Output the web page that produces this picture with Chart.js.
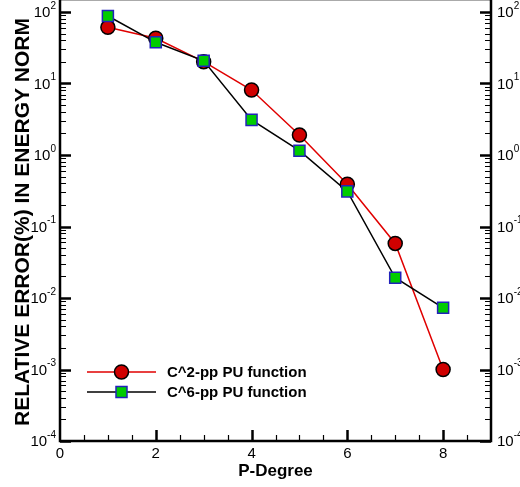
<!DOCTYPE html>
<html>
<head>
<meta charset="utf-8">
<script src="https://cdn.jsdelivr.net/npm/chart.js@4/dist/chart.umd.min.js"></script>
<style>
html, body { margin: 0; padding: 0; background: #fff; }
#wrap { width: 520px; height: 487px; }
</style>
</head>
<body>
<div id="wrap"><canvas id="c" width="520" height="487"></canvas></div>
<script>
// values
const degrees = [1, 2, 3, 4, 5, 6, 7, 8];
const c2Errors = [61, 43, 20.2, 8.1, 1.9, 0.39, 0.058, 0.001];
const c6Errors = [88, 37.7, 20.8, 3.1, 1.15, 0.31, 0.0192, 0.0073];
const xTickValues = [0, 2, 4, 6, 8];
const xTickLabels = ["0", "2", "4", "6", "8"];
const yDecades = [-4, -3, -2, -1, 0, 1, 2];
const seriesNames = ["C^2-pp PU function", "C^6-pp PU function"];

const FONT = '"Liberation Sans", Arial, Helvetica, sans-serif';

let toPoints = (vals) => degrees.map((d, i) => ({ x: d, y: vals[i] }));

// axes, ticks (inward), labels with superscripts, titles, legend
const decorations = {
    id: "decorations",
    afterDraw(chart) {
        const { ctx, chartArea: a, scales: { x, y } } = chart;
        ctx.save();

        // top frame (gray, at the very top)
        ctx.strokeStyle = "#aaaaaa";
        ctx.lineWidth = 1;
        ctx.beginPath();
        ctx.moveTo(a.left, 0.5);
        ctx.lineTo(a.right, 0.5);
        ctx.stroke();

        // left, right and bottom axis lines
        ctx.strokeStyle = "#000";
        ctx.lineWidth = 2.5;
        ctx.beginPath();
        ctx.moveTo(a.left, 0);
        ctx.lineTo(a.left, a.bottom);
        ctx.lineTo(a.right, a.bottom);
        ctx.lineTo(a.right, 0);
        ctx.stroke();

        // y ticks, both sides
        for (let e = -4; e <= 2; e++) {
            for (let m = 1; m <= 9; m++) {
                if (e == 2 && m > 1) break;
                let py = Math.round(y.getPixelForValue(m * Math.pow(10, e))) + 0.5;
                let len = m == 1 ? 11 : 6;
                ctx.lineWidth = m == 1 ? 2.5 : 1.2;
                ctx.beginPath();
                ctx.moveTo(a.left, py);
                ctx.lineTo(a.left + len, py);
                ctx.moveTo(a.right, py);
                ctx.lineTo(a.right - len, py);
                ctx.stroke();
            }
        }

        // x ticks every 0.5, major every 2
        for (let v = 0.5; v < 9; v += 0.5) {
            let px = Math.round(x.getPixelForValue(v)) + 0.5;
            let major = v % 2 == 0;
            ctx.lineWidth = major ? 2.5 : 1.2;
            ctx.beginPath();
            ctx.moveTo(px, a.bottom);
            ctx.lineTo(px, a.bottom - (major ? 11 : 6));
            ctx.stroke();
        }

        ctx.fillStyle = "#000";

        // x tick labels
        ctx.font = "15px " + FONT;
        ctx.textAlign = "center";
        ctx.textBaseline = "top";
        xTickValues.forEach((v, i) => {
            ctx.fillText(xTickLabels[i], x.getPixelForValue(v), a.bottom + 5);
        });

        // y tick labels: 10 with superscript exponent
        ctx.textAlign = "left";
        ctx.textBaseline = "middle";
        yDecades.forEach((e) => {
            let py = y.getPixelForValue(Math.pow(10, e));
            let sup = String(e);
            ctx.font = "15px " + FONT;
            let baseW = ctx.measureText("10").width;
            ctx.font = "10px " + FONT;
            let supW = ctx.measureText(sup).width;
            // left
            let xl = 56 - supW - baseW;
            ctx.font = "15px " + FONT;
            ctx.fillText("10", xl, py + 1);
            ctx.font = "10px " + FONT;
            ctx.fillText(sup, xl + baseW, py - 6);
            // right
            let xr = 497;
            ctx.font = "15px " + FONT;
            ctx.fillText("10", xr, py + 1);
            ctx.font = "10px " + FONT;
            ctx.fillText(sup, xr + baseW, py - 6);
        });

        // axis titles
        ctx.font = "bold 17px " + FONT;
        ctx.textAlign = "center";
        ctx.textBaseline = "alphabetic";
        ctx.fillText("P-Degree", (a.left + a.right) / 2, 476);

        ctx.save();
        ctx.translate(29, 222);
        ctx.rotate(-Math.PI / 2);
        ctx.font = "bold 21px " + FONT;
        ctx.fillText("RELATIVE ERROR(%) IN ENERGY NORM", 0, 0);
        ctx.restore();

        // legend
        let rows = [
            { y: 372, line: "#e00000", draw: (cx, cy) => {
                ctx.fillStyle = "#d00000";
                ctx.strokeStyle = "#000";
                ctx.lineWidth = 1.5;
                ctx.beginPath();
                ctx.arc(cx, cy, 7, 0, Math.PI * 2);
                ctx.fill();
                ctx.stroke();
            } },
            { y: 392, line: "#000", draw: (cx, cy) => {
                ctx.fillStyle = "#00cc00";
                ctx.strokeStyle = "#2222bb";
                ctx.lineWidth = 1.5;
                ctx.fillRect(cx - 5.5, cy - 5.5, 11, 11);
                ctx.strokeRect(cx - 5.5, cy - 5.5, 11, 11);
            } }
        ];
        rows.forEach((r, i) => {
            ctx.strokeStyle = r.line;
            ctx.lineWidth = 1.5;
            ctx.beginPath();
            ctx.moveTo(87, r.y);
            ctx.lineTo(156, r.y);
            ctx.stroke();
            r.draw(121.5, r.y);
            ctx.fillStyle = "#000";
            ctx.font = "bold 15px " + FONT;
            ctx.textAlign = "left";
            ctx.textBaseline = "middle";
            ctx.fillText(seriesNames[i], 167, r.y + 1);
        });

        ctx.restore();
    }
};

new Chart(document.getElementById("c"), {
    type: "line",
    data: {
        datasets: [
            {
                label: seriesNames[0],
                data: toPoints(c2Errors),
                borderColor: "#e00000",
                borderWidth: 1.5,
                pointStyle: "circle",
                pointRadius: 7,
                pointBackgroundColor: "#d00000",
                pointBorderColor: "#000",
                pointBorderWidth: 1.5,
                clip: false,
                order: 1
            },
            {
                label: seriesNames[1],
                data: toPoints(c6Errors),
                borderColor: "#000",
                borderWidth: 1.5,
                pointStyle: "rect",
                pointRadius: 7.8,
                pointBackgroundColor: "#00cc00",
                pointBorderColor: "#2222bb",
                pointBorderWidth: 1.5,
                clip: false,
                order: 0
            }
        ]
    },
    options: {
        responsive: false,
        animation: false,
        devicePixelRatio: 1,
        layout: { padding: { top: 12, left: 0, right: 0, bottom: 0 } },
        plugins: { legend: { display: false }, tooltip: { enabled: false } },
        scales: {
            x: {
                type: "linear", min: 0, max: 9,
                ticks: { display: false }, grid: { display: false }, border: { display: false },
                afterFit: (s) => { s.height = 46; }
            },
            y: {
                type: "logarithmic", position: "left", min: 1e-4, max: 100,
                ticks: { display: false }, grid: { display: false }, border: { display: false },
                afterFit: (s) => { s.width = 60; }
            },
            y2: {
                type: "logarithmic", position: "right", min: 1e-4, max: 100,
                ticks: { display: false }, grid: { display: false }, border: { display: false },
                afterFit: (s) => { s.width = 29; }
            }
        }
    },
    plugins: [decorations]
});
</script>
</body>
</html>
